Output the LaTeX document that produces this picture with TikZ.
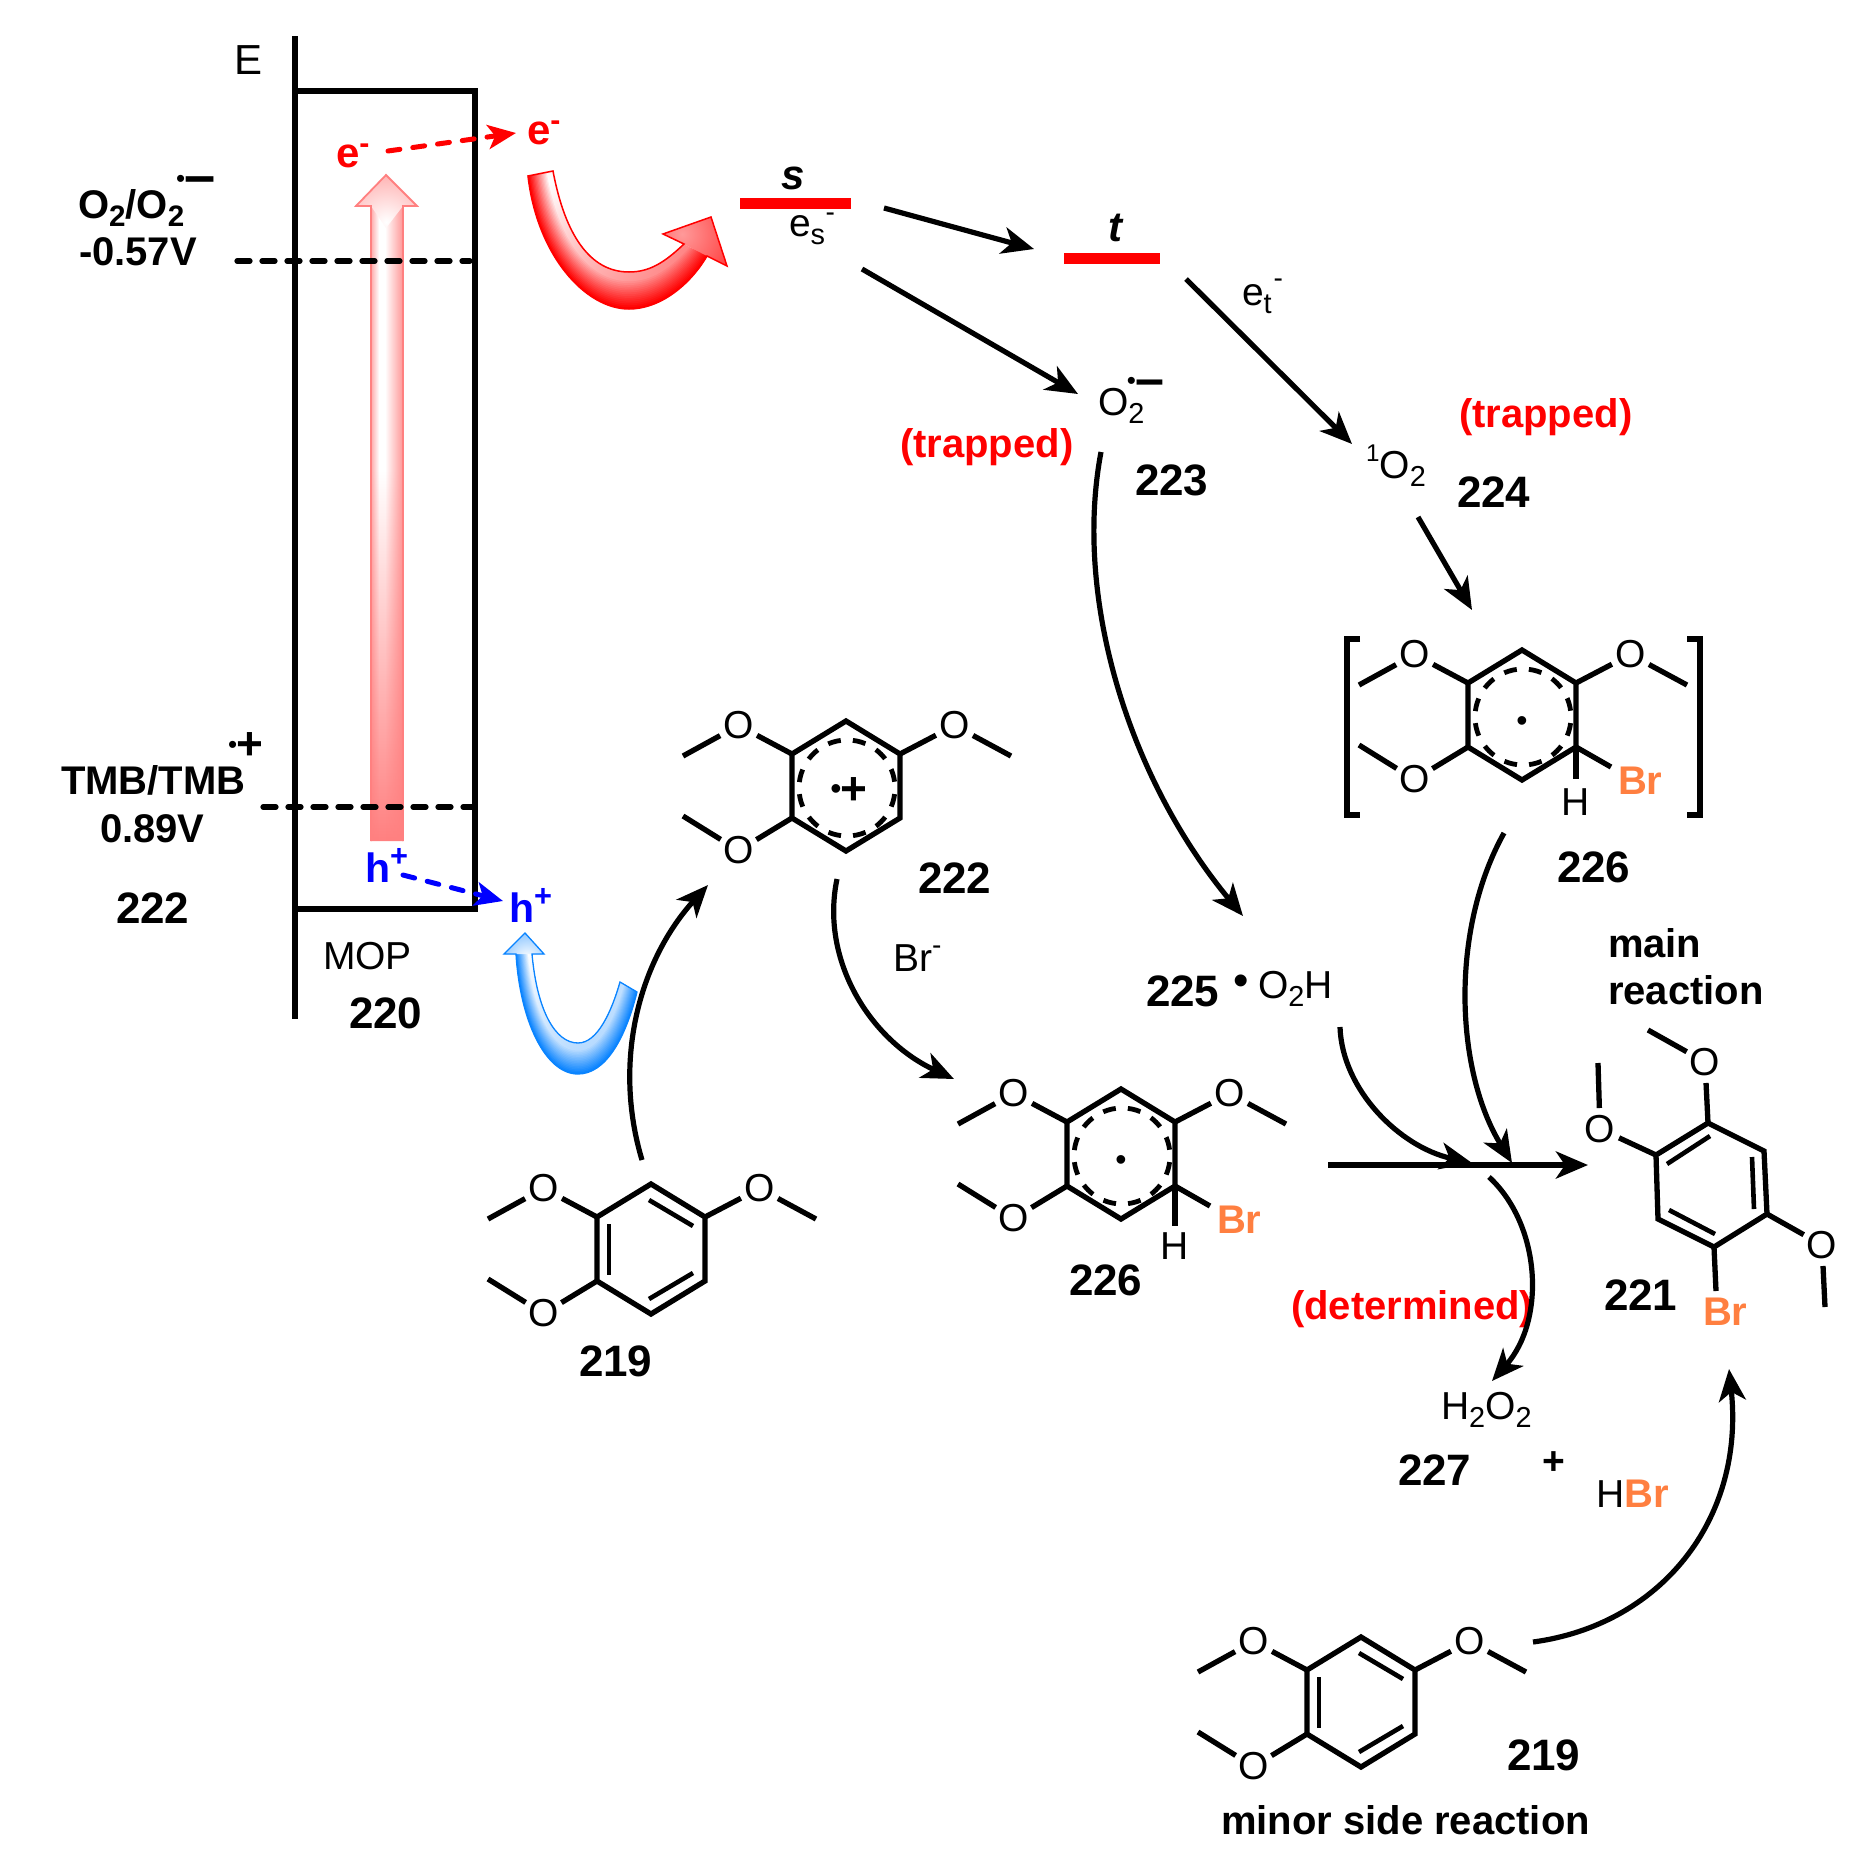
\documentclass[tikz,border=0pt]{standalone}
\usepackage{fontspec}
\usepackage{graphicx}
\setmainfont{Liberation Sans}
\usetikzlibrary{arrows.meta,fadings,calc}
\definecolor{brcol}{HTML}{FF7F40}
\definecolor{skyblue}{HTML}{0A84FF}
\definecolor{pinkbot}{HTML}{FF8080}
\newcommand\sbs[1]{\raisebox{-.22em}{\scalebox{.74}{#1}}}
\newcommand\sps[1]{\raisebox{.42em}{\scalebox{.72}{#1}}}
\tikzfading[name=radout,inner color=transparent!100,outer color=transparent!0]
\tikzset{
  lab/.style={anchor=base west,inner sep=0pt,outer sep=0pt,font=\fontsize{39}{39}\selectfont},
  blab/.style={anchor=base west,inner sep=0pt,outer sep=0pt,font=\fontsize{40}{40}\selectfont\bfseries},
  num/.style={anchor=base west,inner sep=0pt,outer sep=0pt,font=\fontsize{44}{44}\selectfont\bfseries},
  atom/.style={shape=circle,inner sep=0pt,outer sep=0pt,minimum size=42pt,font=\fontsize{39}{39}\selectfont},
  bond/.style={line width=5.3pt,line cap=butt,line join=miter},
  inbond/.style={line width=4.6pt,line cap=butt},
  frame/.style={line width=5.5pt},
  levelline/.style={line width=5.2pt,dash pattern=on 13pt off 12pt,line cap=round},
  rxn/.style={line width=5.2pt,-{Stealth[length=32pt,width=27pt,inset=9pt]}},
  edash/.style={line width=5pt,dash pattern=on 12pt off 13pt,line cap=round,-{Stealth[length=28pt,width=24pt,inset=7pt]}},
  radring/.style={line width=4.8pt,dash pattern=on 13pt off 12.1pt,dash phase=19pt},
  stateline/.style={fill=red,inner sep=0pt,outer sep=0pt},
  dotlab/.style={anchor=base,inner sep=0pt,outer sep=0pt,font=\fontsize{32}{32}\selectfont},
}
% across-the-band gradient of a curved arrow: prefix, colour
\newcommand\gradband[2]{%
  \foreach \iv in {0,...,15}{%
    \pgfmathsetmacro\tv{\iv/20}%
    \pgfmathsetmacro\cv{max(100-\iv*100/15,0)}%
    \fill[#2!\cv!white] ($(#1o0)!\tv!(#1i0)$) .. controls ($(#1o1)!\tv!(#1i1)$) and ($(#1o2)!\tv!(#1i2)$) .. ($(#1o3)!\tv!(#1i3)$)
       .. controls ($(#1o4)!\tv!(#1i4)$) and ($(#1o5)!\tv!(#1i5)$) .. ($(#1o6)!\tv!(#1i6)$)
       -- (#1i6) .. controls (#1i5) and (#1i4) .. (#1i3) .. controls (#1i2) and (#1i1) .. (#1i0) -- cycle;
  }}
\newcommand\skel[3]{%
  \begin{scope}[shift={(#1,#2)}]
    \coordinate (#3v1) at (0,-65);
    \coordinate (#3v2) at (54,-32);
    \coordinate (#3v3) at (54,32);
    \coordinate (#3v4) at (0,65);
    \coordinate (#3v5) at (-54,32);
    \coordinate (#3v6) at (-54,-32);
    \draw[bond] (#3v1)--(#3v2)--(#3v3)--(#3v4)--(#3v5)--(#3v6)--cycle;
    \node[atom] (#3oa) at (-107.5,-60.5) {O};
    \node[atom] (#3ob) at (-107.5,64.5) {O};
    \node[atom] (#3oc) at (108.5,-60.5) {O};
    \coordinate (#3ma) at (-163,-30);
    \coordinate (#3mb) at (-163,30);
    \coordinate (#3mc) at (165,-30);
    \draw[bond] (#3v6)--(#3oa);
    \draw[bond] (#3oa)--(#3ma);
    \draw[bond] (#3v5)--(#3ob);
    \draw[bond] (#3ob)--(#3mb);
    \draw[bond] (#3v2)--(#3oc);
    \draw[bond] (#3oc)--(#3mc);
  \end{scope}}
\newcommand\arom[2]{%
  \begin{scope}[shift={(#1,#2)}]
    \draw[inbond] (-42,-25)--(-42,26);
    \draw[inbond] (-2,-49)--(42,-23);
    \draw[inbond] (-2,50)--(42,24);
  \end{scope}}
\newcommand\radc[2]{%
  \begin{scope}[shift={(#1,#2)}]
    \draw[radring] (1,2) circle (48);
  \end{scope}}
\newcommand\brh[5]{%
  \begin{scope}[shift={(#1,#2)}]
    \coordinate (#3bre) at (89,52);
    \coordinate (#3he) at (54,#4);
    \draw[bond] (#3v3)--(#3bre);
    \draw[bond] (#3v3)--(#3he);
    \node[blab,text=brcol] (#3br) at (96,79) {Br};
    \node[lab,anchor=base] (#3h) at (54,#5) {H};
    \node[dotlab] (#3dot) at (0,16) {•};
  \end{scope}}
\begin{document}
\begin{tikzpicture}[x=1pt,y=-1pt]
\useasboundingbox (0,0) rectangle (1872,1869);
% --- pink excitation arrow
\begin{scope}
  \clip (371,841)--(371,206)--(356,206)--(386,175)--(417,206)--(403,206)--(403,841)--cycle;
  \fill[white] (356,175) rectangle (417,841);
  \shade[top color=white,bottom color=pinkbot] (371,470) rectangle (403,841);
  \fill[pinkbot,path fading=west] (385,200) rectangle (407,841);
  \fill[pinkbot,path fading=east] (367,200) rectangle (379,841);
  \begin{scope}
    \clip (386,175)--(417,206)--(403,206)--(386,228)--(371,206)--(356,206)--cycle;
    \shade[inner color=white,outer color=pinkbot] (386,222) circle (80);
  \end{scope}
\end{scope}
\draw[pinkbot,line width=1.8pt,line join=miter] (371,841)--(371,206)--(356,206)--(386,175)--(417,206)--(403,206)--(403,841);
% --- energy box
\coordinate (axtop) at (295,36);
\coordinate (axbot) at (295,1019);
\coordinate (tl) at (295,91);
\coordinate (tr) at (478,91);
\coordinate (rt) at (475,91);
\coordinate (rb) at (475,909);
\coordinate (bl) at (295,909);
\draw[frame] (axtop)--(axbot);
\draw[frame] (tl)--(tr);
\draw[frame] (rt)--(rb);
\draw[frame] (bl)--(477.5,909);
\coordinate (d1a) at (237,261);
\coordinate (d1b) at (470,261);
\coordinate (d2a) at (263,807);
\coordinate (d2b) at (472,807);
\draw[levelline] (d1a)--(d1b);
\draw[levelline] (d2a)--(d2b);
% --- left labels
\node[lab,font=\fontsize{42}{42}\selectfont] (E) at (234,74) {E};
\node[blab] (redox1) at (78,218) {O\sbs{2}/O\sbs{2}};
\node[anchor=base west,inner sep=0pt] (rad1) at (176,194) {\raisebox{7pt}{\fontsize{26}{26}\selectfont •}\hspace{-1pt}\fontsize{56}{56}\selectfont\bfseries –};
\node[blab] (v1) at (79,265) {-0.57V};
\node[blab] (redox2) at (61,794) {TMB/TMB};
\node[anchor=base west,inner sep=0pt] (rad2) at (228,759) {\raisebox{6pt}{\fontsize{26}{26}\selectfont •}\hspace{-1pt}\fontsize{46}{46}\selectfont\bfseries +};
\node[blab] (v2) at (100,842) {0.89V};
\node[num] (n222a) at (116,923) {222};
\node[lab] (mop) at (323,969) {MOP};
\node[num] (n220) at (349,1028) {220};
% --- carriers
\node[num,text=red,font=\fontsize{42}{42}\selectfont\bfseries] (ein) at (336,167) {e\raisebox{.32em}{\scalebox{.72}{-}}};
\node[num,text=red,font=\fontsize{42}{42}\selectfont\bfseries] (eout) at (527,144) {e\raisebox{.32em}{\scalebox{.72}{-}}};
\coordinate (ea) at (388,151);
\coordinate (eb) at (516,133);
\draw[edash,red] (ea)--(eb);
\node[num,text=blue,font=\fontsize{41}{41}\selectfont\bfseries] (hin) at (365,882) {h\raisebox{.38em}{\scalebox{.75}{+}}};
\node[num,text=blue,font=\fontsize{41}{41}\selectfont\bfseries] (hout) at (509,922) {h\raisebox{.38em}{\scalebox{.75}{+}}};
\coordinate (ha) at (403,875);
\coordinate (hb) at (503,901);
\draw[edash,blue] (ha)--(hb);
% --- red curved arrow
\coordinate (ro0) at (528,176); \coordinate (ro1) at (537,255); \coordinate (ro2) at (585,309); \coordinate (ro3) at (629,309);
\coordinate (ro4) at (660,309); \coordinate (ro5) at (690,285); \coordinate (ro6) at (707,256);
\coordinate (ri0) at (553,171); \coordinate (ri1) at (565,235); \coordinate (ri2) at (590,272); \coordinate (ri3) at (629,272);
\coordinate (ri4) at (650,272); \coordinate (ri5) at (665,262); \coordinate (ri6) at (684,244);
\fill[red] (ro0) .. controls (ro1) and (ro2) .. (ro3) .. controls (ro4) and (ro5) .. (ro6) -- (727,266) -- (711,217) -- (663,234) -- (ri6)
   .. controls (ri5) and (ri4) .. (ri3) .. controls (ri2) and (ri1) .. (ri0) -- cycle;
\gradband{r}{red}
\begin{scope}
  \clip (ro0) .. controls (ro1) and (ro2) .. (ro3) .. controls (ro4) and (ro5) .. (ro6) -- (ri6)
   .. controls (ri5) and (ri4) .. (ri3) .. controls (ri2) and (ri1) .. (ri0) -- cycle;
  \fill[red,path fading=radout] (550,180) circle (320);
\end{scope}
\begin{scope}
  \clip (ro6) -- (727,266) -- (711,217) -- (663,234) -- (ri6) -- cycle;
  \shade[inner color=pinkbot!80!white,outer color=red] (682,234) circle (95);
\end{scope}
\draw[red,line width=1.5pt,line join=miter] (ro0) .. controls (ro1) and (ro2) .. (ro3) .. controls (ro4) and (ro5) .. (ro6) -- (727,266) -- (711,217) -- (663,234) -- (ri6)
   .. controls (ri5) and (ri4) .. (ri3) .. controls (ri2) and (ri1) .. (ri0) -- cycle;
% --- blue curved arrow
\coordinate (bo0) at (516,954); \coordinate (bo1) at (520,1020); \coordinate (bo2) at (545,1074); \coordinate (bo3) at (578,1074);
\coordinate (bo4) at (605,1074); \coordinate (bo5) at (625,1040); \coordinate (bo6) at (637,992);
\coordinate (bi0) at (532,954); \coordinate (bi1) at (537,1010); \coordinate (bi2) at (555,1043); \coordinate (bi3) at (578,1043);
\coordinate (bi4) at (598,1043); \coordinate (bi5) at (612,1010); \coordinate (bi6) at (620,982);
\fill[skyblue] (525,933) -- (544,954) -- (bi0) .. controls (bi1) and (bi2) .. (bi3) .. controls (bi4) and (bi5) .. (bi6) -- (bo6)
   .. controls (bo5) and (bo4) .. (bo3) .. controls (bo2) and (bo1) .. (bo0) -- (504,954) -- cycle;
\gradband{b}{skyblue}
\begin{scope}
  \clip (bo0) .. controls (bo1) and (bo2) .. (bo3) .. controls (bo4) and (bo5) .. (bo6) -- (bi6)
   .. controls (bi5) and (bi4) .. (bi3) .. controls (bi2) and (bi1) .. (bi0) -- cycle;
  \fill[skyblue,path fading=radout] (525,950) circle (400);
\end{scope}
\begin{scope}
  \clip (525,933) -- (544,954) -- (504,954) -- cycle;
  \shade[inner color=white,outer color=skyblue] (527,958) circle (56);
\end{scope}
\draw[skyblue,line width=1.3pt,line join=miter] (525,933) -- (544,954) -- (bi0) .. controls (bi1) and (bi2) .. (bi3) .. controls (bi4) and (bi5) .. (bi6) -- (bo6)
   .. controls (bo5) and (bo4) .. (bo3) .. controls (bo2) and (bo1) .. (bo0) -- (504,954) -- cycle;
% --- states
\node[stateline,minimum width=111pt,minimum height=11pt] (sbar) at (795.5,203.5) {};
\node[stateline,minimum width=96pt,minimum height=11pt] (tbar) at (1112,258.5) {};
\node[num,font=\fontsize{42}{42}\selectfont\bfseries\itshape] (slab) at (781,189) {s};
\node[num,font=\fontsize{42}{42}\selectfont\bfseries\itshape] (tlab) at (1108,241) {t};
\node[lab] (es) at (789,236) {e\rlap{\sbs{s}}\hspace{15pt}\raisebox{.38em}{\scalebox{.72}{-}}};
\node[lab] (et) at (1242,305) {e\rlap{\sbs{t}}\hspace{10pt}\raisebox{.46em}{\scalebox{.72}{-}}};
\node[lab] (o2rad) at (1098,415) {O\sbs{2}\hspace{-17.4pt}\rlap{\raisebox{19pt}{\raisebox{7pt}{\fontsize{26}{26}\selectfont •}\hspace{-1pt}\fontsize{52}{52}\selectfont\bfseries –}}};
\node[blab,text=red] (trap1) at (900,457) {(trapped)};
\node[blab,text=red] (trap2) at (1459,427) {(trapped)};
\node[num] (n223) at (1135,495) {223};
\node[lab] (so2) at (1366,478) {\raisebox{.42em}{\scalebox{.62}{1}}O\sbs{2}};
\node[num] (n224) at (1457,507) {224};
\coordinate (a1s) at (884,208);
\coordinate (a1e) at (1034,249);
\coordinate (a2s) at (862,269);
\coordinate (a2e) at (1078,394);
\coordinate (a3s) at (1186,279);
\coordinate (a3e) at (1352,444);
\coordinate (a4s) at (1418,517);
\coordinate (a4e) at (1472,610);
\draw[rxn] (a1s)--(a1e);
\draw[rxn] (a2s)--(a2e);
\draw[rxn] (a3s)--(a3e);
\draw[rxn] (a4s)--(a4e);
% --- molecules
\skel{1522}{715}{u}
\radc{1522}{715}
\brh{1522}{715}{u}{64}{100}
\coordinate (bl1) at (1360,639);
\coordinate (bl2) at (1347,639);
\coordinate (bl3) at (1347,815);
\coordinate (bl4) at (1360,815);
\coordinate (br1) at (1687,639);
\coordinate (br2) at (1700,639);
\coordinate (br3) at (1700,815);
\coordinate (br4) at (1687,815);
\draw[bond] (bl1)--(bl2)--(bl3)--(bl4);
\draw[bond] (br1)--(br2)--(br3)--(br4);
\node[num] (n226u) at (1557,882) {226};
\skel{846}{786}{r}
\radc{846}{786}
\node[dotlab] (rdot) at (836,799) {•};
\node[num,font=\fontsize{46}{46}\selectfont\bfseries,anchor=base] (rplus) at (854,804) {+};
\node[num] (n222b) at (918,893) {222};
\node[lab] (brm) at (893,971) {Br\sps{-}};
\skel{1121}{1154}{m}
\radc{1121}{1154}
\brh{1121}{1154}{m}{72}{105}
\node[num] (n226m) at (1069,1295) {226};
\skel{651}{1249}{a}
\arom{651}{1249}
\node[num] (n219a) at (579,1376) {219};
\skel{1361}{1702}{b}
\arom{1361}{1702}
\node[num] (n219b) at (1507,1770) {219};
\node[blab] (minor) at (1221,1834) {minor side reaction};
% --- product 221
\coordinate (pa) at (1708,1123);
\coordinate (pb) at (1764,1151);
\coordinate (pc) at (1767,1214);
\coordinate (pd) at (1714,1247);
\coordinate (pe) at (1658,1219);
\coordinate (pf) at (1656,1155);
\draw[bond] (pa)--(pb)--(pc)--(pd)--(pe)--(pf)--cycle;
\draw[inbond] (1710,1136)--(1667,1164);
\draw[inbond] (1752,1157)--(1754,1209);
\draw[inbond] (1669,1210)--(1715,1234);
\node[atom] (po1) at (1705,1062) {O};
\node[atom] (po2) at (1600,1129) {O};
\node[atom] (po3) at (1822,1245) {O};
\coordinate (pm1) at (1648,1030);
\coordinate (pm2) at (1598,1063);
\coordinate (pm3) at (1825,1307);
\coordinate (pbre) at (1716,1291);
\draw[bond] (pa)--(po1);
\draw[bond] (po1)--(pm1);
\draw[bond] (pf)--(po2);
\draw[bond] (po2)--(pm2);
\draw[bond] (pc)--(po3);
\draw[bond] (po3)--(pm3);
\draw[bond] (pd)--(pbre);
\node[blab,text=brcol] (pbr) at (1703,1325) {Br};
\node[num] (n221) at (1604,1310) {221};
% --- other labels
\node[num] (n225) at (1146,1006) {225};
\node[anchor=base,inner sep=0pt,font=\fontsize{44}{44}\selectfont] (d225) at (1241,995) {•};
\node[lab] (o2h) at (1258,998) {O\sbs{2}H};
\node[blab] (main1) at (1608,957) {main};
\node[blab] (main2) at (1608,1004) {reaction};
\node[blab,text=red] (det) at (1291,1319) {(determined)};
\node[lab] (h2o2) at (1441,1419) {H\sbs{2}O\sbs{2}};
\node[num] (n227) at (1398,1485) {227};
\node[lab] (plus) at (1542,1474) {\bfseries +};
\node[lab] (hbr) at (1596,1507) {H{\fontsize{40}{40}\selectfont\bfseries\color{brcol}Br}};
% --- curved reaction arrows
\coordinate (c1s) at (1101,452);
\coordinate (c1e) at (1243,916);
\coordinate (c2s) at (1504,833);
\coordinate (c2e) at (1512,1163);
\coordinate (c3s) at (1340,1027);
\coordinate (c3e) at (1472,1163);
\coordinate (c4s) at (1328,1165);
\coordinate (c4e) at (1588,1165);
\coordinate (c5s) at (1489,1177);
\coordinate (c5e) at (1492,1381);
\coordinate (c6s) at (642,1160);
\coordinate (c6e) at (708,885);
\coordinate (c7s) at (837,879);
\coordinate (c7e) at (954,1079);
\coordinate (c8s) at (1533,1642);
\coordinate (c8e) at (1729,1369);
\draw[rxn] (c1s) .. controls (1073,600) and (1130,780) .. (c1e);
\draw[rxn] (c2s) .. controls (1450,930) and (1455,1070) .. (c2e);
\draw[rxn] (c3s) .. controls (1342,1090) and (1400,1147) .. (c3e);
\draw[rxn,line width=6pt] (c4s)--(c4e);
\draw[rxn] (c5s) .. controls (1541,1225) and (1546,1320) .. (c5e);
\draw[rxn] (c6s) .. controls (612,1060) and (640,960) .. (c6e);
\draw[rxn] (c7s) .. controls (820,960) and (870,1040) .. (c7e);
\draw[rxn] (c8s) .. controls (1660,1625) and (1745,1520) .. (c8e);
\end{tikzpicture}
\end{document}
